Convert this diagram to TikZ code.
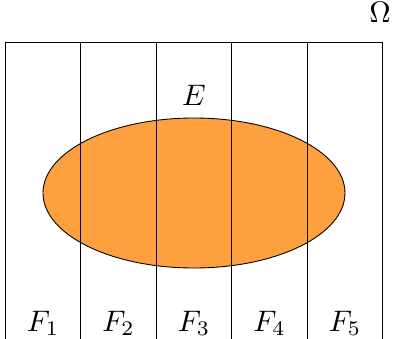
\documentclass[tikz,border=0pt]{standalone}
\usetikzlibrary{shapes.geometric}
\newcommand{\mylbltext}[1]{\scalebox{1.35}{$#1$}}
\begin{document}
\begin{tikzpicture}[x=0.455pt,y=-0.455pt,
  part/.style={draw=black,line width=0.4pt},
  lbl/.style={anchor=base,inner sep=0pt}]
\useasboundingbox (0,0) rectangle (393,339);
\definecolor{evfill}{HTML}{FFA040}
\node[draw=black,fill=evfill,ellipse,minimum width=302*0.455pt,minimum height=150*0.455pt,inner sep=0pt] (ev) at (194,193) {};
\coordinate (c0) at (5,42);
\coordinate (c1) at (80.7,42);
\coordinate (c2) at (156.3,42);
\coordinate (c3) at (231.7,42);
\coordinate (c4) at (307.3,42);
\coordinate (c5) at (382.7,42);
\coordinate (d0) at (5,345);
\coordinate (d1) at (80.7,345);
\coordinate (d2) at (156.3,345);
\coordinate (d3) at (231.7,345);
\coordinate (d4) at (307.3,345);
\coordinate (d5) at (382.7,345);
\draw[part] (c0) -- (c5);
\foreach \i in {0,...,5} {\draw[part] (c\i) -- (d\i);}
\node[lbl] (om) at (380,22.7) {\mylbltext{\Omega}};
\node[lbl] (E) at (194,105.7) {\mylbltext{E}};
\node[lbl] (f1) at (43,331) {\mylbltext{F_1}};
\node[lbl] (f2) at (118.5,331) {\mylbltext{F_2}};
\node[lbl] (f3) at (194,331) {\mylbltext{F_3}};
\node[lbl] (f4) at (269.5,331) {\mylbltext{F_4}};
\node[lbl] (f5) at (345,331) {\mylbltext{F_5}};
\end{tikzpicture}
\end{document}
